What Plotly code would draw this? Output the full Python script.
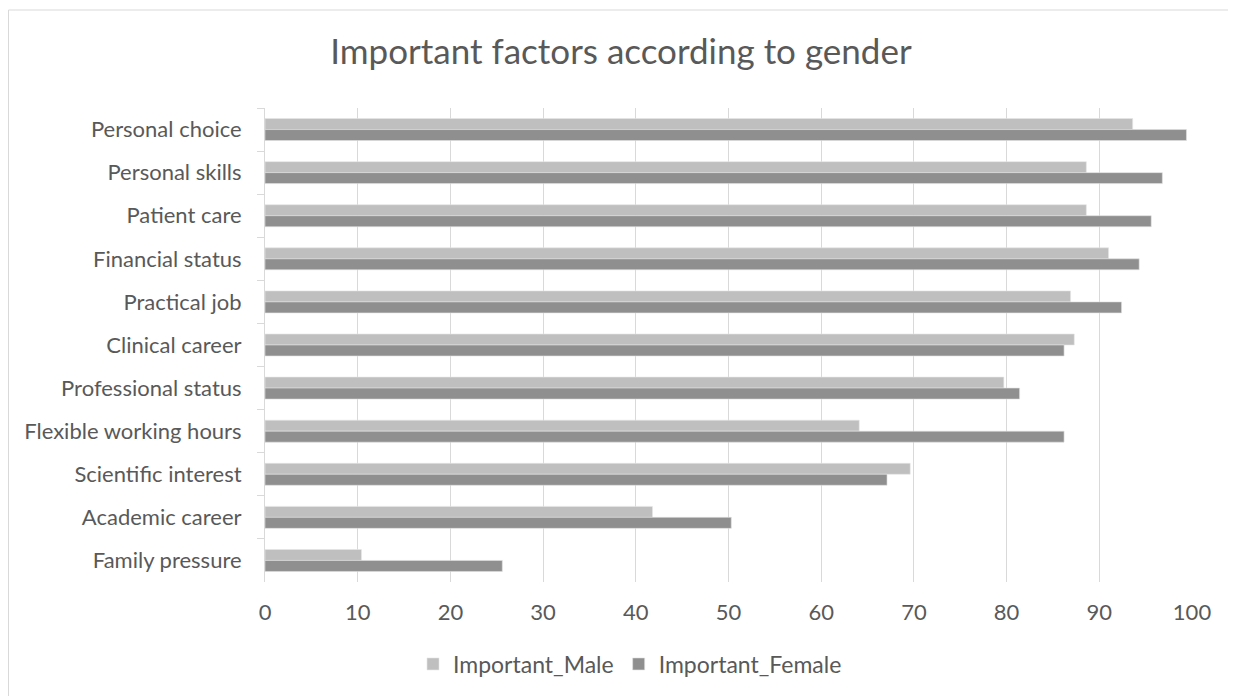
import plotly.graph_objects as go

categories = ["Personal choice", "Personal skills", "Patient care", "Financial status",
              "Practical job", "Clinical career", "Professional status",
              "Flexible working hours", "Scientific interest", "Academic career",
              "Family pressure"]
male = [93.6, 88.6, 88.6, 91.0, 86.9, 87.3, 79.7, 64.1, 69.6, 41.8, 10.4]
female = [99.4, 96.8, 95.6, 94.3, 92.4, 86.2, 81.4, 86.2, 67.1, 50.3, 25.6]
x_ticks = [0, 10, 20, 30, 40, 50, 60, 70, 80, 90, 100]

W, H = 1236, 696
OFF = 8  # page body margin
L, R, T, B = 265 - OFF, 44 + OFF, 108 - OFF, 114 + OFF
pw, ph = W - L - R, H - T - B

def px_x(p):
    return (p - OFF - L) / pw

def px_y(p):
    return (H - B - (p - OFF)) / ph

FONT = "Lato, Open Sans, sans-serif"
TXT = "#595959"

fig = go.Figure()
fig.add_trace(go.Bar(y=categories, x=male, orientation="h", name="Important_Male",
                     marker=dict(color="#BFBFBF", line=dict(color="#E6E6E6", width=0.6))))
fig.add_trace(go.Bar(y=categories, x=female, orientation="h", name="Important_Female",
                     marker=dict(color="#8F8F8F", line=dict(color="#E0E0E0", width=0.6))))

fig.update_layout(
    width=W, height=H,
    margin=dict(l=L, r=R, t=T, b=B, pad=0),
    paper_bgcolor="white", plot_bgcolor="white",
    barmode="group", bargap=0.49, bargroupgap=0,
    font=dict(family=FONT, color=TXT, size=22),
    title=dict(text="Important factors according to gender", x=(621 - OFF) / W, xanchor="center",
               xref="container", y=1 - (52 - OFF) / H, yanchor="middle",
               font=dict(size=35, color=TXT, family=FONT)),
    xaxis=dict(range=[0, 100], tickvals=x_ticks, ticktext=[str(v) for v in x_ticks],
               showgrid=True, gridcolor="#D9D9D9", gridwidth=1, zeroline=False,
               showline=False, ticks="", tickfont=dict(size=22, color=TXT), ticklabelstandoff=15),
    yaxis=dict(autorange="reversed", showgrid=False, showline=True, linecolor="#D9D9D9",
               linewidth=1, ticks="outside", tickson="boundaries", ticklen=7,
               tickcolor="#D9D9D9", tickfont=dict(size=22, color=TXT), ticklabelstandoff=18),
    legend=dict(orientation="h", x=px_x(630), xanchor="center", y=px_y(664), yanchor="middle",
                font=dict(size=23, color=TXT), itemwidth=30, tracegroupgap=0),
    shapes=[dict(type="rect", xref="paper", yref="paper",
                 x0=px_x(8.5), x1=px_x(1250), y0=px_y(710), y1=px_y(10),
                 line=dict(color="#D9D9D9", width=1), layer="below")],
)

fig.write_html("out.html")
